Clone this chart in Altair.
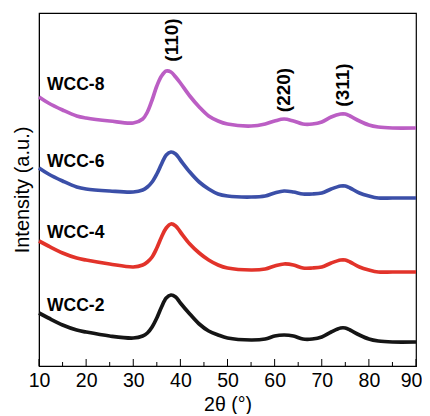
import altair as alt
import pandas as pd

two_theta = [10, 12, 15, 18, 20, 25, 30, 32, 33, 34, 35, 36, 37, 38, 39, 40, 42, 44, 46, 48,
             50, 55, 58, 60, 62, 64, 66, 68, 70, 72, 74, 75, 76, 78, 80, 82, 85, 90]

wcc2 = [53, 48, 41, 36, 34, 30, 28, 30, 33, 39, 48, 59, 68, 71, 69, 63, 52, 42, 35, 31,
        28, 26, 27, 30, 31, 30, 27, 27, 29, 34, 38, 38, 36, 31, 27, 25, 24, 24]
wcc4 = [125, 120, 113, 108, 106, 102, 99, 101, 104, 109, 118, 129, 138, 142, 140, 134, 122, 113, 106, 101,
        98, 96, 97, 100, 102, 101, 98, 98, 99, 103, 106, 106, 104, 99, 96, 94, 94, 94]
wcc6 = [198, 192, 185, 179, 177, 175, 174, 176, 179, 184, 192, 202, 211, 214, 212, 206, 194, 184, 177, 172,
        170, 169, 170, 173, 175, 174, 172, 172, 173, 177, 180, 180, 178, 173, 170, 168, 168, 168]
wcc8 = [269, 263, 256, 250, 248, 245, 243, 247, 254, 266, 280, 290, 295, 294, 289, 283, 270, 259, 250, 245,
        242, 240, 242, 245, 247, 245, 242, 242, 244, 249, 252, 252, 250, 245, 241, 239, 238, 238]

series_names = ["WCC-2", "WCC-4", "WCC-6", "WCC-8"]
series_colors = ["#151515", "#e2332a", "#3b4fa8", "#bb5ec4"]

label_x = [11.7, 11.7, 11.7, 11.7]
label_y = [60, 133, 204, 281]

peak_text = ["(110)", "(220)", "(311)"]
peak_x = [38.2, 61.9, 74.6]
peak_y = [326, 276, 281]

major_ticks = [10, 20, 30, 40, 50, 60, 70, 80, 90]
minor_ticks = [15, 25, 35, 45, 55, 65, 75, 85]

rows = []
for name, vals in zip(series_names, [wcc2, wcc4, wcc6, wcc8]):
    for x, y in zip(two_theta, vals):
        rows.append({"x": x, "y": y, "s": name})
df = pd.DataFrame(rows)

FONT = "Liberation Sans"
W, H = 377, 353
xscale = alt.Scale(domain=[10, 90], nice=False, zero=False)
yscale = alt.Scale(domain=[0, 353], nice=False)
cscale = alt.Scale(domain=series_names, range=series_colors)

xaxis = alt.Axis(title="2θ (°)", values=major_ticks, ticks=False, grid=False,
                 labelFontSize=19.5, titleFontSize=19.5, labelPadding=5,
                 labelOffset={"expr": "datum.value === 90 ? -5 : 0"},
                 titleBaseline="alphabetic", titleY=44,
                 domainColor="black", labelColor="black", titleColor="black",
                 titleFontWeight="normal", labelFlush=False, labelFont=FONT, titleFont=FONT)
yaxis = alt.Axis(title="Intensity (a.u.)", labels=False, ticks=False, grid=False,
                 titlePadding=7, titleFontSize=20, titleColor="black",
                 titleFontWeight="normal", domainColor="black", titleFont=FONT)

lines = alt.Chart(df).mark_line(strokeWidth=3.7, interpolate="catmull-rom").encode(
    x=alt.X("x:Q", scale=xscale, axis=xaxis),
    y=alt.Y("y:Q", scale=yscale, axis=yaxis),
    color=alt.Color("s:N", scale=cscale, legend=None),
)

major = alt.Chart(pd.DataFrame({"x": major_ticks})).mark_rule(color="black", strokeWidth=1).encode(
    x=alt.X("x:Q", scale=xscale, axis=xaxis), y=alt.value(H), y2=alt.value(H - 7))
minor = alt.Chart(pd.DataFrame({"x": minor_ticks})).mark_rule(color="black", strokeWidth=1).encode(
    x=alt.X("x:Q", scale=xscale, axis=xaxis), y=alt.value(H), y2=alt.value(H - 4))

labels = alt.Chart(pd.DataFrame({"x": label_x, "y": label_y, "t": series_names})).mark_text(
    font=FONT, fontSize=17.5, fontWeight="bold", align="left", baseline="middle", color="black"
).encode(x=alt.X("x:Q", scale=xscale, axis=xaxis), y=alt.Y("y:Q", scale=yscale, axis=yaxis), text="t:N")

peaks = alt.Chart(pd.DataFrame({"x": peak_x, "y": peak_y, "t": peak_text})).mark_text(
    font=FONT, fontSize=19, fontWeight="bold", align="center", baseline="middle", angle=270, color="black"
).encode(x=alt.X("x:Q", scale=xscale, axis=xaxis), y=alt.Y("y:Q", scale=yscale, axis=yaxis), text="t:N")

chart = alt.layer(lines, major, minor, labels, peaks).properties(
    width=W, height=H,
    autosize=alt.AutoSizeParams(type="none"),
    padding={"left": 31, "top": 5, "right": 6, "bottom": 48},
).configure(font=FONT).configure_view(stroke="black", strokeWidth=1.2)

chart.save("out.html", embed_options={"renderer": "svg", "actions": False})
